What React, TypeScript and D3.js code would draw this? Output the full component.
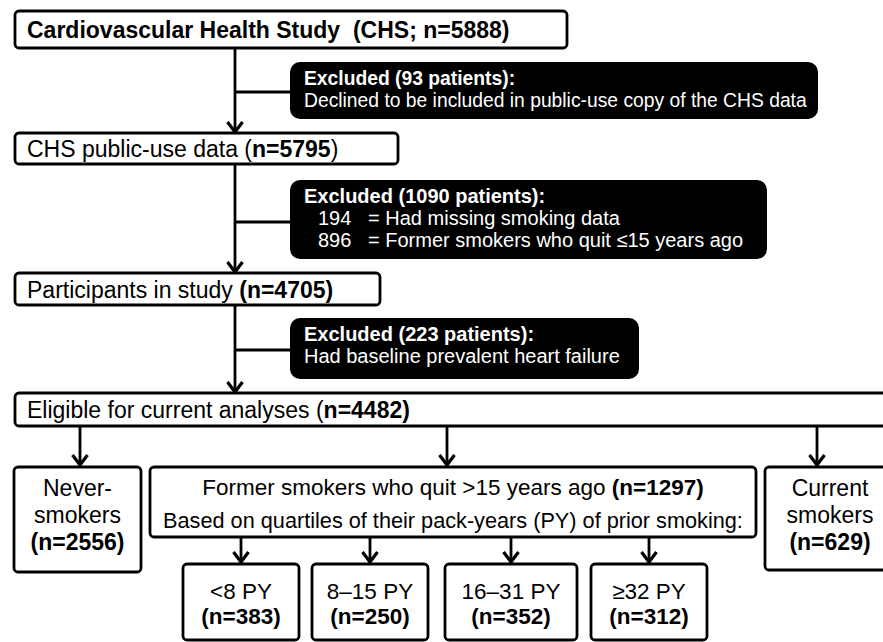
import React, { useRef, useEffect } from 'react';
import * as d3 from 'd3';

// flow of participants, top to bottom
const cohortCounts = [5888, 5795, 4705, 4482];
const exclusionCounts = [93, 1090, 223];
const exclusionReasons = [
  ['Declined to be included in public-use copy of the CHS data'],
  ['194   = Had missing smoking data', '896   = Former smokers who quit \u226415 years ago'],
  ['Had baseline prevalent heart failure'],
];
const groupCounts = [2556, 1297, 629];
const pyLabels = ['<8 PY', '8\u201315 PY', '16\u201331 PY', '\u226532 PY'];
const pyCounts = [383, 250, 352, 312];

type Seg = { t: string; b?: boolean };

const FONT = "'Liberation Sans', Arial, Helvetica, sans-serif";

const App = () => {
  const svgRef = useRef<SVGSVGElement>(null);

  useEffect(() => {
    document.body.style.margin = '0';
    const width = 883;
    const height = 642;
    const svg = d3.select(svgRef.current)
      .attr('width', width)
      .attr('height', height)
      .style('display', 'block')
      .style('font-family', FONT);
    svg.selectAll('*').remove();

    const mainX = 235;

    const box = (x: number, y: number, w: number, h: number) =>
      svg.append('rect')
        .attr('x', x).attr('y', y).attr('width', w).attr('height', h)
        .attr('rx', 4)
        .attr('fill', 'white')
        .attr('stroke', 'black')
        .attr('stroke-width', 2.8);

    const text = (x: number, y: number, segs: Seg[], size: number, anchor = 'start', fill = 'black') => {
      const t = svg.append('text')
        .attr('x', x).attr('y', y)
        .attr('font-size', size)
        .attr('fill', fill)
        .attr('text-anchor', anchor)
        .style('white-space', 'pre');
      segs.forEach(s => {
        t.append('tspan').attr('font-weight', s.b ? 'bold' : 'normal').text(s.t);
      });
      return t;
    };

    const line = (x1: number, y1: number, x2: number, y2: number) =>
      svg.append('line')
        .attr('x1', x1).attr('y1', y1).attr('x2', x2).attr('y2', y2)
        .attr('stroke', 'black')
        .attr('stroke-width', 2.8);

    const arrow = (x: number, y1: number, y2: number) => {
      line(x, y1, x, y2 - 1);
      svg.append('path')
        .attr('d', `M${x - 7.5},${y2 - 11} L${x},${y2 - 1} L${x + 7.5},${y2 - 11}`)
        .attr('fill', 'none')
        .attr('stroke', 'black')
        .attr('stroke-width', 3.2)
        .attr('stroke-linejoin', 'miter');
    };

    // cohort boxes
    const cohort = [
      { x: 15, y: 11, w: 552, h: 37, base: 38, size: 23,
        segs: [{ t: `Cardiovascular Health Study  (CHS; n=${cohortCounts[0]})`, b: true }] },
      { x: 15, y: 133, w: 383, h: 31, base: 157, size: 23,
        segs: [{ t: 'CHS public-use data (' }, { t: `n=${cohortCounts[1]}`, b: true }, { t: ')' }] },
      { x: 15, y: 273, w: 365, h: 32, base: 298, size: 23,
        segs: [{ t: 'Participants in study ' }, { t: `(n=${cohortCounts[2]})`, b: true }] },
      { x: 15, y: 393, w: 880, h: 33, base: 418, size: 23,
        segs: [{ t: 'Eligible for current analyses (' }, { t: `n=${cohortCounts[3]})`, b: true }] },
    ];

    // exclusion boxes
    const excl = [
      { x: 290, y: 62, w: 528, h: 57, join: 92, size: 19.3, indent: 0 },
      { x: 290, y: 180, w: 477, h: 79, join: 222, size: 20, indent: 14 },
      { x: 290, y: 318, w: 349, h: 61, join: 350, size: 20, indent: 0 },
    ];

    // trunk arrows
    for (let i = 0; i < 3; i++) {
      const a = cohort[i];
      const b = cohort[i + 1];
      arrow(mainX, a.y + a.h, b.y);
      line(mainX, excl[i].join, excl[i].x, excl[i].join);
    }

    cohort.forEach(c => {
      box(c.x, c.y, c.w, c.h);
      text(27, c.base, c.segs, c.size);
    });

    excl.forEach((e, i) => {
      svg.append('rect')
        .attr('x', e.x).attr('y', e.y).attr('width', e.w).attr('height', e.h)
        .attr('rx', 10)
        .attr('fill', 'black');
      text(e.x + 14, e.y + 23, [{ t: `Excluded (${exclusionCounts[i]} patients):`, b: true }], e.size, 'start', 'white');
      exclusionReasons[i].forEach((r, j) => {
        text(e.x + 14 + e.indent, e.y + 45 + j * 22, [{ t: r }], e.size, 'start', 'white');
      });
    });

    // smoking groups
    const groupTop = 467;
    const elig = cohort[3];
    const never = { x: 14, w: 127, h: 105, arrowX: 80 };
    const former = { x: 150, w: 606, h: 70, arrowX: 447 };
    const current = { x: 765, w: 132, h: 103, arrowX: 817 };

    [never, former, current].forEach(g => arrow(g.arrowX, elig.y + elig.h, groupTop - 1));

    box(never.x, groupTop, never.w, never.h);
    const nc = never.x + never.w / 2;
    text(nc, groupTop + 29, [{ t: 'Never-' }], 23, 'middle');
    text(nc, groupTop + 56, [{ t: 'smokers' }], 23, 'middle');
    text(nc, groupTop + 83, [{ t: `(n=${groupCounts[0]})`, b: true }], 23, 'middle');

    box(former.x, groupTop, former.w, former.h);
    const fc = former.x + former.w / 2;
    text(fc, groupTop + 28, [{ t: 'Former smokers who quit >15 years ago ' }, { t: `(n=${groupCounts[1]})`, b: true }], 22.5, 'middle');
    text(fc, groupTop + 61, [{ t: 'Based on quartiles of their pack-years (PY) of prior smoking:' }], 21.7, 'middle');

    box(current.x, groupTop, current.w, current.h);
    const cc = 830;
    text(cc, groupTop + 29, [{ t: 'Current' }], 23, 'middle');
    text(cc, groupTop + 56, [{ t: 'smokers' }], 23, 'middle');
    text(cc, groupTop + 83, [{ t: `(n=${groupCounts[2]})`, b: true }], 23, 'middle');

    // pack-year quartiles
    const pyBoxes = [
      { x: 183, w: 116 },
      { x: 312, w: 116 },
      { x: 445, w: 132 },
      { x: 591, w: 116 },
    ];
    const pyTop = 564;
    pyBoxes.forEach((p, i) => {
      const cx = p.x + p.w / 2;
      arrow(cx, groupTop + former.h, pyTop - 1);
      box(p.x, pyTop, p.w, 76);
      text(cx, pyTop + 35, [{ t: pyLabels[i] }], 22.5, 'middle');
      text(cx, pyTop + 60, [{ t: `(n=${pyCounts[i]})`, b: true }], 22.5, 'middle');
    });
  }, []);

  return <svg ref={svgRef}></svg>;
};

export default App;
